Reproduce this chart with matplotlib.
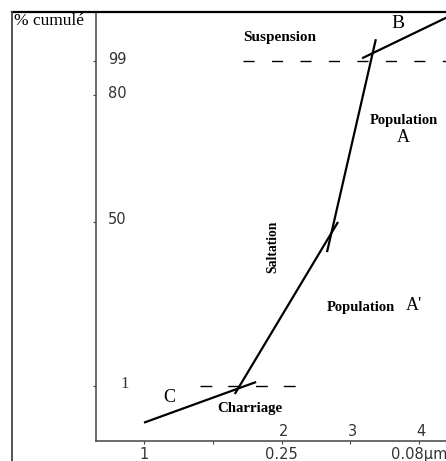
import numpy as np
import matplotlib.pyplot as plt
from matplotlib.lines import Line2D
from matplotlib.ticker import NullLocator

W, H = 446, 461

# probability paper: cumulative % -> vertical position (schematic spacing)
pct_marks = [0.1, 1, 50, 80, 99, 99.9]
pct_pos = [0, 55, 219, 346, 380, 429]

# grain size axis in phi units
phi_ticks = [0, 1, 2, 3, 4]
size_labels = ["1", "", "0.25", "", "0.08µm"]
phi_labels = ["", "", "2", "3", "4"]
pct_ticks = [1, 50, 80, 99]
pct_labels = ["1", "50", "80", "99"]

# straight segments of the cumulative curve (phi, %)
charriage_phi = [0.0, 1.63]
charriage_pct = [0.4, 2.2]
saltation_phi = [1.32, 2.82]
saltation_pct = [0.87, 50]
pop_a_phi = [2.66, 3.37]
pop_a_pct = [41, 99.4]
suspension_phi = [3.17, 4.45]
suspension_pct = [99.05, 99.83]

# truncation levels
trunc_high_phi = [1.44, 4.45]
trunc_high_pct = [99, 99]
trunc_low_phi = [0.81, 2.21]
trunc_low_pct = [1, 1]


def fwd(v):
    return np.interp(v, pct_marks, pct_pos)


def inv(p):
    return np.interp(p, pct_pos, pct_marks)


fig = plt.figure(figsize=(W / 100, H / 100), dpi=100)
ax = fig.add_axes([96 / W, (H - 441) / H, 350 / W, 429 / H])
ax.set_yscale('function', functions=(fwd, inv))
ax.set_ylim(0.1, 99.9)
ax.set_xlim((96 - 144) / 68.8, (446 - 144) / 68.8)

for s in ['top', 'right']:
    ax.spines[s].set_visible(False)
for s in ['left', 'bottom']:
    ax.spines[s].set_linewidth(1.1)
    ax.spines[s].set_color('#444444')

ax.set_yticks(pct_ticks)
ax.set_yticklabels([])
ax.yaxis.set_minor_locator(NullLocator())
ax.set_xticks(phi_ticks)
ax.set_xticklabels(size_labels, fontsize=10.5, color='#333333',
                   family='DejaVu Sans')
ax.tick_params(axis='both', direction='out', length=2.5, width=0.8,
               color='#444444')
ax.tick_params(axis='x', pad=1.5)

# % labels sit inside the axis
for v, lab in zip(pct_ticks, pct_labels):
    xoff = 0.07 if lab == "1" else 0.034
    fam = 'Liberation Serif' if lab == "1" else 'DejaVu Sans'
    fs = 12 if lab == "1" else 10.5
    ax.text(xoff, inv(fwd(v) + 2), lab, transform=ax.get_yaxis_transform(),
            ha='left', va='center', fontsize=fs, family=fam, color='#333333')

# phi labels just above the x axis
for v, lab in zip(phi_ticks, phi_labels):
    if lab:
        ax.text(v + 0.03, 0.021, lab, transform=ax.get_xaxis_transform(),
                ha='center', va='center', fontsize=10.5, color='#333333',
                family='DejaVu Sans')

# curve segments
for xs, ys in [(charriage_phi, charriage_pct), (saltation_phi, saltation_pct),
               (pop_a_phi, pop_a_pct), (suspension_phi, suspension_pct)]:
    ax.plot(xs, ys, color='black', lw=1.6, solid_capstyle='butt')

ax.plot(trunc_high_phi, trunc_high_pct, color='black', lw=1.0,
        linestyle=(0, (8, 12.5)))
ax.plot(trunc_low_phi, trunc_low_pct, color='black', lw=1.0,
        linestyle=(0, (8.5, 11.5)))

# frame around the whole graph
fig.add_artist(Line2D([12 / W, 1], [1 - 12 / H, 1 - 12 / H], color='black',
                      lw=1.6, transform=fig.transFigure))
fig.add_artist(Line2D([12 / W, 12 / W], [0, 1 - 12 / H], color='#444444',
                      lw=1.3, transform=fig.transFigure))


def label(x, y, s, **kw):
    kw.setdefault('family', 'Liberation Serif')
    kw.setdefault('ha', 'center')
    kw.setdefault('va', 'center')
    fig.text(x / W, 1 - y / H, s, color='black', **kw)


label(14, 13, "% cumulé", fontsize=12.5, ha='left', va='top')
label(280, 38, "Suspension", fontsize=11, weight='bold')
label(398, 24, "B", fontsize=14)
label(404, 120, "Population", fontsize=10.5, weight='bold')
label(403, 137, "A", fontsize=13)
label(273, 247, "Saltation", fontsize=9.8, weight='bold', rotation=90)
label(361, 307, "Population", fontsize=10.5, weight='bold')
label(414, 305, "A'", fontsize=13)
label(169, 397, "C", fontsize=13)
label(250, 408, "Charriage", fontsize=10.7, weight='bold')

fig.savefig('out.png', dpi=100)
